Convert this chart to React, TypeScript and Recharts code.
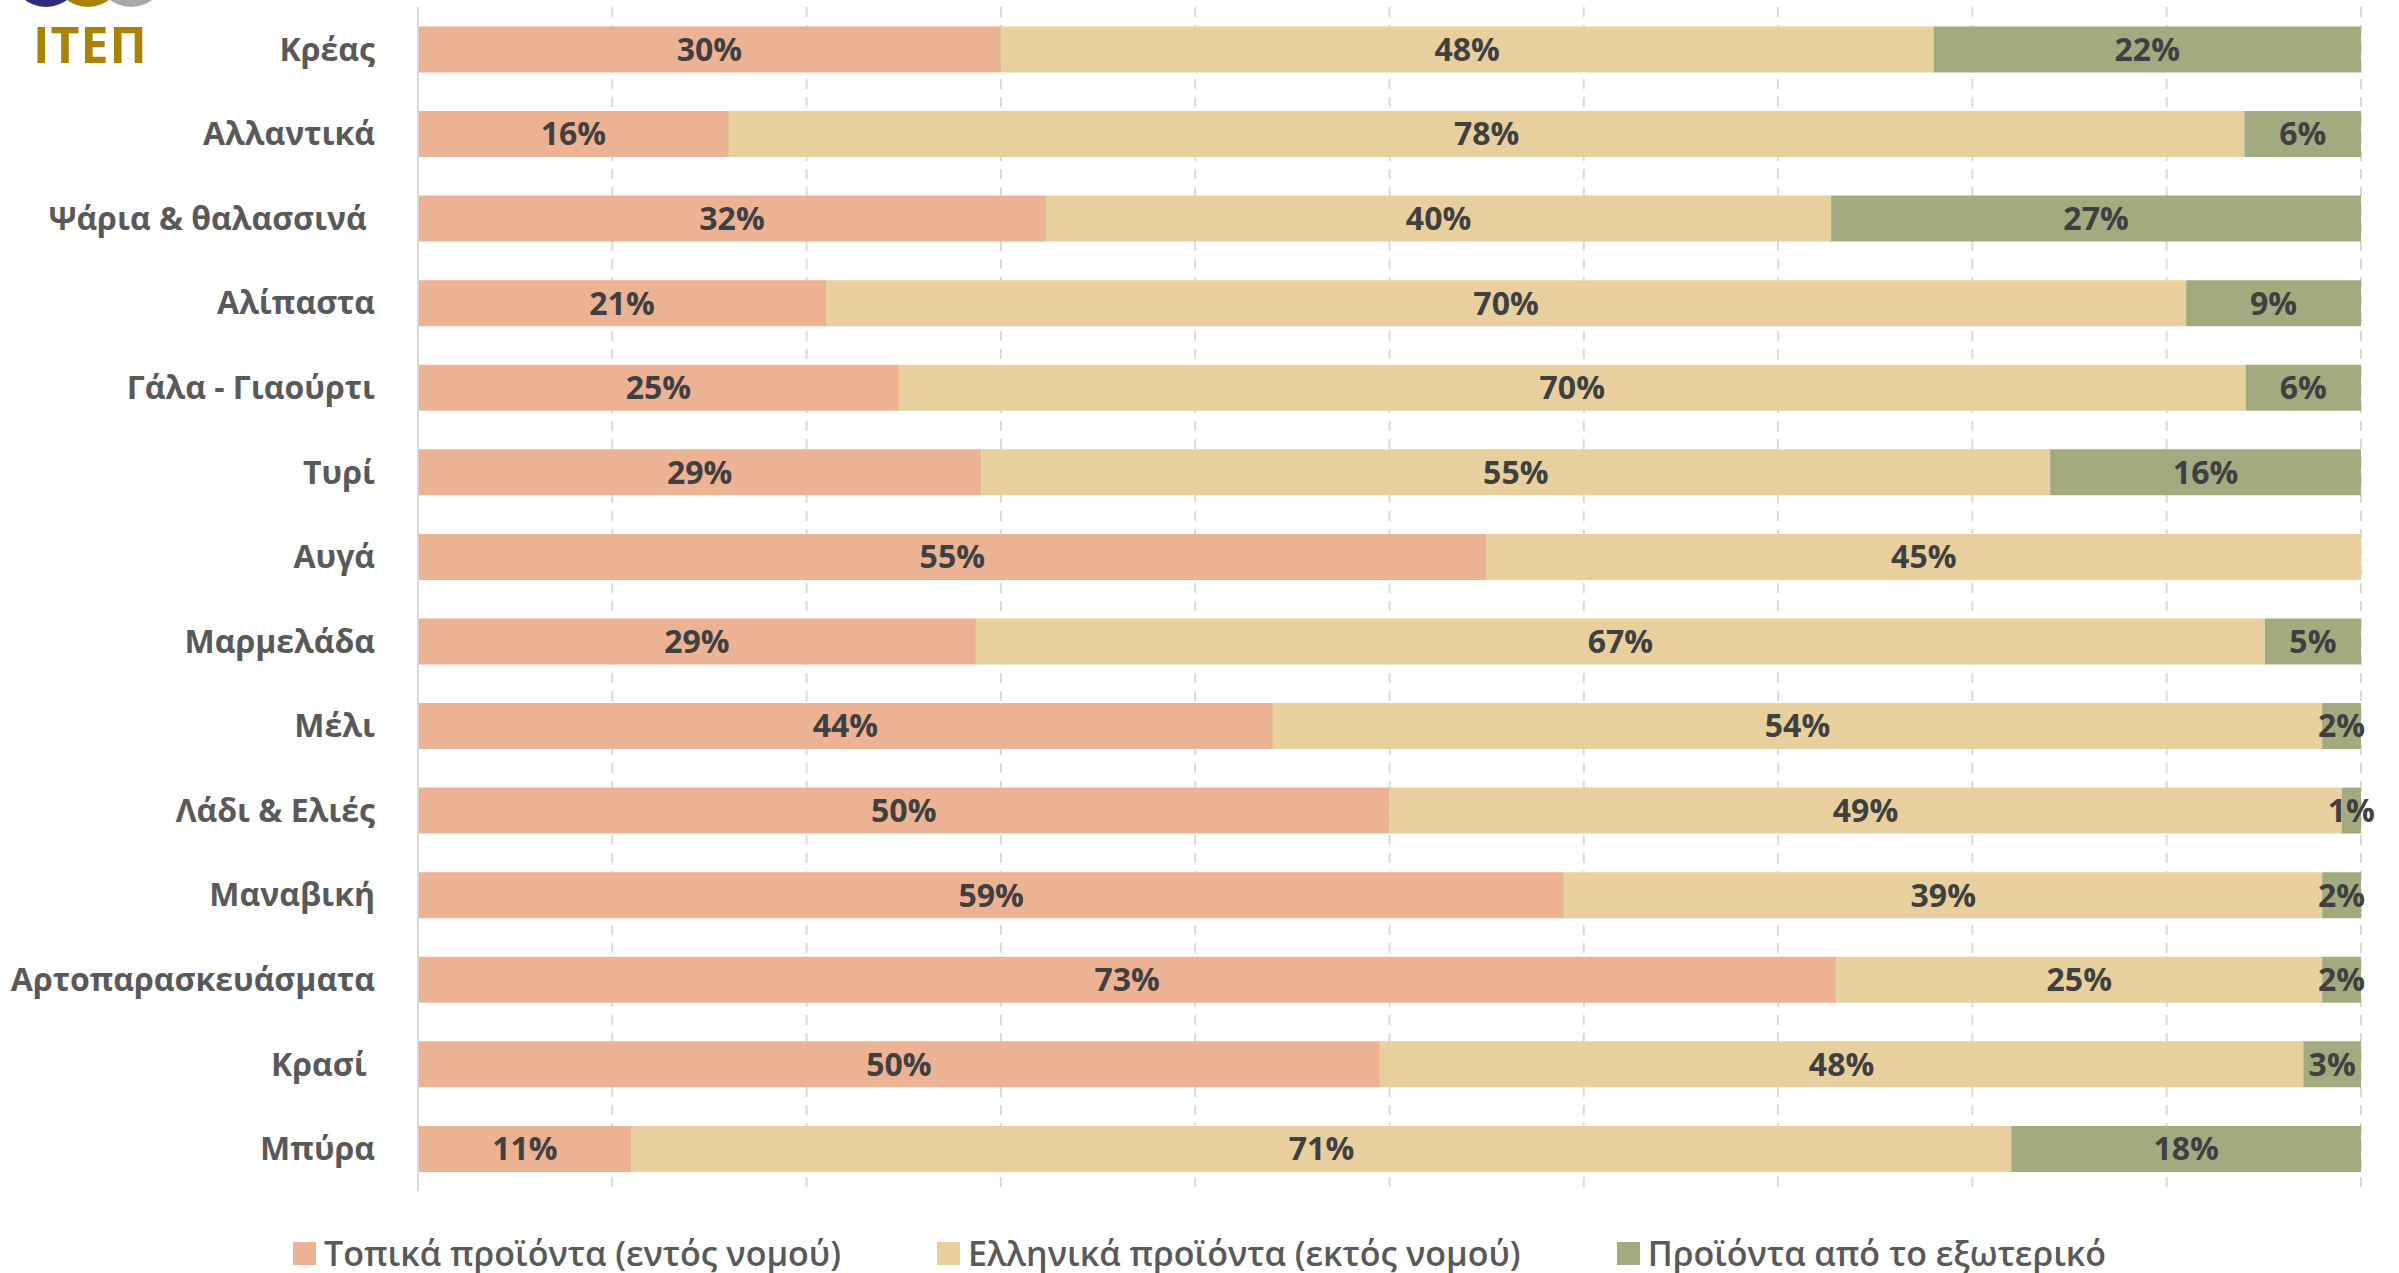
import React from 'react';
import { BarChart, Bar, XAxis, YAxis, CartesianGrid, Legend, LabelList } from 'recharts';

const categories = [
  'Κρέας',
  'Αλλαντικά',
  'Ψάρια & θαλασσινά\u00a0',
  'Αλίπαστα',
  'Γάλα - Γιαούρτι',
  'Τυρί',
  'Αυγά',
  'Μαρμελάδα',
  'Μέλι',
  'Λάδι & Ελιές',
  'Μαναβική',
  'Αρτοπαρασκευάσματα',
  'Κρασί\u00a0',
  'Μπύρα',
];

// percentages as printed on the bars
const localValues = [30, 16, 32, 21, 25, 29, 55, 29, 44, 50, 59, 73, 50, 11];
const greekValues = [48, 78, 40, 70, 70, 55, 45, 67, 54, 49, 39, 25, 48, 71];
const foreignValues = [22, 6, 27, 9, 6, 16, 0, 5, 2, 1, 2, 2, 3, 18];

const seriesNames = ['Τοπικά προϊόντα (εντός νομού)', 'Ελληνικά προϊόντα (εκτός νομού)', 'Προϊόντα από το εξωτερικό'];
const seriesColors = ['#ecb294', '#e8d09e', '#a4aa80'];
const gridTicks = [0, 0.1, 0.2, 0.3, 0.4, 0.5, 0.6, 0.7, 0.8, 0.9, 1];

const data = categories.map((name, i) => ({
  name,
  local: localValues[i],
  greek: greekValues[i],
  foreign: foreignValues[i],
}));

const FONT = '"Open Sans", "Noto Sans", sans-serif';

const pct = (v: any) => (v ? `${v}%` : '');

const renderLegend = () => (
  <div style={{ display: 'flex', justifyContent: 'center', alignItems: 'center', gap: 96, height: 40, fontFamily: FONT }}>
    {seriesNames.map((n, i) => (
      <div key={n} style={{ display: 'flex', alignItems: 'center' }}>
        <span style={{ width: 23, height: 23, background: seriesColors[i], display: 'inline-block', marginRight: 8 }} />
        <span style={{ fontSize: 34, fontWeight: 600, color: '#595959', whiteSpace: 'nowrap' }}>{n}</span>
      </div>
    ))}
  </div>
);

const Logo = () => (
  <svg width={200} height={80} style={{ position: 'absolute', left: 0, top: 0, pointerEvents: 'none' }}>
    <circle cx={46} cy={-28} r={35} fill="#2f2a7c" />
    <circle cx={131} cy={-28} r={35} fill="#a7a8ab" />
    <circle cx={88} cy={-28} r={35} fill="#a98307" />
    <text x={33} y={63} fill="#a98307" fontSize={50} fontWeight={700} letterSpacing={1} fontFamily={FONT}>ΙΤΕΠ</text>
  </svg>
);

export default function App() {
  return (
    <div style={{ position: 'absolute', left: 0, top: 0, width: 2399, height: 1273, background: '#fff' }}>
      <BarChart
        width={2399}
        height={1273}
        data={data}
        layout="vertical"
        stackOffset="expand"
        barCategoryGap="23%"
        margin={{ top: 7, right: 38, left: 0, bottom: 42 }}
      >
        <CartesianGrid horizontal={false} stroke="#d9d9d9" strokeWidth={2} strokeDasharray="10 8" />
        <XAxis type="number" domain={[0, 1]} ticks={gridTicks} hide />
        <YAxis
          type="category"
          dataKey="name"
          width={418}
          tickLine={false}
          tickMargin={37}
          axisLine={{ stroke: '#d9d9d9', strokeWidth: 2 }}
          tick={{ fill: '#595959', fontSize: 32, fontWeight: 700, fontFamily: FONT }}
          interval={0}
        />
        <Legend verticalAlign="bottom" content={renderLegend} wrapperStyle={{ bottom: 0, left: 0, width: 2399, height: 40 }} />
        <Bar dataKey="local" stackId="a" fill={seriesColors[0]} name={seriesNames[0]} isAnimationActive={false}>
          <LabelList dataKey="local" position="center" formatter={pct} fill="#404040" fontSize={32} fontWeight={700} fontFamily={FONT} />
        </Bar>
        <Bar dataKey="greek" stackId="a" fill={seriesColors[1]} name={seriesNames[1]} isAnimationActive={false}>
          <LabelList dataKey="greek" position="center" formatter={pct} fill="#404040" fontSize={32} fontWeight={700} fontFamily={FONT} />
        </Bar>
        <Bar dataKey="foreign" stackId="a" fill={seriesColors[2]} name={seriesNames[2]} isAnimationActive={false}>
          <LabelList dataKey="foreign" position="center" formatter={pct} fill="#404040" fontSize={32} fontWeight={700} fontFamily={FONT} />
        </Bar>
      </BarChart>
      <Logo />
    </div>
  );
}
